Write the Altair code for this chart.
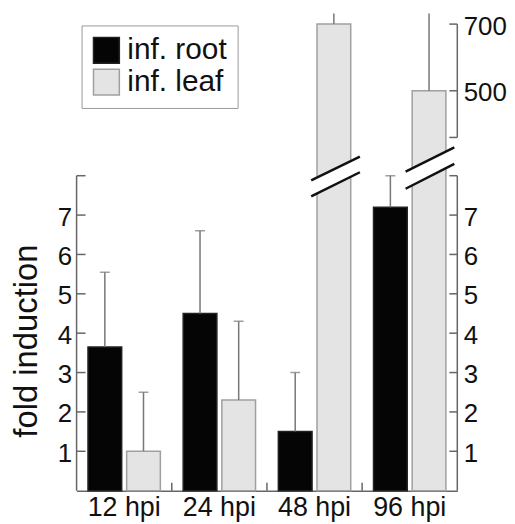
import altair as alt
import pandas as pd

# ---------------- data ----------------
categories = ["12 hpi", "24 hpi", "48 hpi", "96 hpi"]
series = ["inf. root", "inf. leaf"]
root_mean = [3.65, 4.5, 1.5, 7.2]
root_err = [1.9, 2.1, 1.5, 0.8]
leaf_mean = [1.0, 2.3, 700, 500]
leaf_err = [1.5, 2.0, 60, 280]   # upper two are cut off at the top in the original

lower_ticks = [1, 2, 3, 4, 5, 6, 7]
lower_top = 8          # lower segment of the broken axis: 0 .. 8
upper_ticks = [500, 700]
upper_bottom = 360     # upper segment of the broken axis starts here

# broken-axis mapping (value -> display units of the lower segment)
GAP = 0.972
K = 0.008468


def disp(v):
    return v if v <= lower_top + 0.5 else lower_top + GAP + (v - upper_bottom) * K


W, H = 383, 480
YMAX = 12.12

rows = []
for i, c in enumerate(categories):
    rows.append(dict(cat=c, series=series[0], mean=root_mean[i], top=root_mean[i] + root_err[i]))
    rows.append(dict(cat=c, series=series[1], mean=leaf_mean[i], top=leaf_mean[i] + leaf_err[i]))
bars = pd.DataFrame(rows)
bars["d_mean"] = bars["mean"].map(disp)
bars["d_top"] = bars["top"].map(disp)

# axis frame (broken right axis)
left_line = pd.DataFrame({"lo": [0], "hi": [lower_top]})
right_line = pd.DataFrame({"lo": [0, disp(upper_bottom)], "hi": [lower_top, disp(700)]})
left_tick_df = pd.DataFrame({"d": lower_ticks + [lower_top]})
right_tick_df = pd.DataFrame({"d": lower_ticks + [lower_top] + [disp(upper_bottom)] + [disp(v) for v in upper_ticks]})
sep_df = pd.DataFrame({"cat": categories[1:]})

# break marks (pairs of slashes)
brkA = pd.DataFrame({"ya": [7.88, 7.475], "yb": [8.485, 8.088]})
brkA_w = pd.DataFrame({"ya": [7.677], "yb": [8.283]})
brkB = pd.DataFrame({"ya": [8.106, 7.669], "yb": [8.720, 8.301]})
brkB_w = pd.DataFrame({"ya": [7.886], "yb": [8.510]})

# ---------------- encodings ----------------
yscale = alt.Scale(domain=[0, YMAX], nice=False, zero=True)
xscale = alt.Scale(domain=categories, paddingInner=0, paddingOuter=0)
xaxis = alt.Axis(title=None, labelAngle=0, ticks=False, labelFontSize=27, labelPadding=4,
                 labelColor="#111", domainColor="#666", domainWidth=1.5, grid=False)
x_enc = alt.X("cat:N", scale=xscale, axis=xaxis)
xoff = alt.XOffset("series:N", scale=alt.Scale(domain=series, paddingInner=0.128, paddingOuter=0.295))

left_axis = alt.Axis(orient="left", values=lower_ticks, ticks=False, domain=False, grid=False,
                     labelFontSize=26, labelPadding=5, labelColor="#111", labelOffset=2,
                     labelOverlap=False,
                     title="fold induction", titleFontSize=33, titleFontWeight="normal",
                     titleColor="#111", titleX=-40, titleY=329, titleAngle=270,
                     titleBaseline="alphabetic", titleAlign="center")

label_expr = "datum.value > %.3f ? '%d' : (datum.value > %.3f ? '%d' : datum.label)" % (
    disp(upper_ticks[1]) - 0.5, upper_ticks[1], disp(upper_ticks[0]) - 0.5, upper_ticks[0])
right_axis = alt.Axis(orient="right", values=lower_ticks + [disp(v) for v in upper_ticks],
                      labelExpr=label_expr, ticks=False, domain=False, grid=False,
                      labelFontSize=26, labelPadding=6, labelColor="#111", labelOffset=2,
                      labelOverlap=False, title=None)

legend = alt.Legend(title=None, orient="none", legendX=5, legendY=12, symbolType="square",
                    symbolSize=676, symbolStrokeWidth=1.5, labelFontSize=30, labelColor="#111",
                    labelOffset=6, strokeColor="#999", fillColor="white", padding=10, rowPadding=0)

fill_scale = alt.Scale(domain=series, range=["#050505", "#e4e4e4"])
stroke_scale = alt.Scale(domain=series, range=["#222222", "#a0a0a0"])

base = alt.Chart(bars)

bar_layer = base.mark_bar(strokeWidth=1.5).encode(
    x=x_enc, xOffset=xoff,
    y=alt.Y("d_mean:Q", scale=yscale, axis=left_axis),
    color=alt.Color("series:N", scale=fill_scale, legend=legend),
    stroke=alt.Stroke("series:N", scale=stroke_scale, legend=legend),
)

err_layer = base.mark_rule(color="#777", strokeWidth=1.5, clip=True).encode(
    x=x_enc, xOffset=xoff,
    y=alt.Y("d_mean:Q", scale=yscale, axis=None), y2="d_top:Q",
)
cap_layer = base.mark_tick(color="#777", size=10, thickness=1.5, clip=True).encode(
    x=x_enc, xOffset=xoff,
    y=alt.Y("d_top:Q", scale=yscale, axis=None),
)

frame_style = dict(color="#666", strokeWidth=1.5)
left_line_layer = alt.Chart(left_line).mark_rule(**frame_style).encode(
    x=alt.value(0), y=alt.Y("lo:Q", scale=yscale, axis=None), y2="hi:Q")
right_line_layer = alt.Chart(right_line).mark_rule(**frame_style).encode(
    x=alt.value(W), y=alt.Y("lo:Q", scale=yscale, axis=right_axis), y2="hi:Q")
left_ticks_layer = alt.Chart(left_tick_df).mark_rule(**frame_style).encode(
    x=alt.value(0), x2=alt.value(9), y=alt.Y("d:Q", scale=yscale, axis=None))
right_ticks_layer = alt.Chart(right_tick_df).mark_rule(**frame_style).encode(
    x=alt.value(W - 8), x2=alt.value(W), y=alt.Y("d:Q", scale=yscale, axis=None))
sep_layer = alt.Chart(sep_df).mark_rule(**frame_style).encode(
    x=alt.X("cat:N", scale=xscale, axis=xaxis, bandPosition=0),
    y=alt.value(H), y2=alt.value(H - 8))


def brk(df, x0, x1, color, width):
    return alt.Chart(df).mark_rule(color=color, strokeWidth=width).encode(
        x=alt.value(x0), x2=alt.value(x1),
        y=alt.Y("ya:Q", scale=yscale, axis=None), y2="yb:Q")


chart = alt.layer(
    bar_layer, err_layer, cap_layer,
    brk(brkA_w, 236, 285, "white", 14), brk(brkA, 236, 285, "#111", 2.5),
    brk(brkB_w, 331, 380, "white", 14), brk(brkB, 331, 380, "#111", 2.5),
    left_line_layer, right_line_layer, left_ticks_layer, right_ticks_layer, sep_layer,
).resolve_axis(y="independent").properties(
    width=W, height=H,
    autosize=alt.AutoSizeParams(type="none"),
    padding={"left": 69, "top": 4, "right": 50, "bottom": 32},
).configure(font="Liberation Sans").configure_view(stroke=None)

chart.save("out.html", embed_options={"renderer": "svg", "actions": False})
